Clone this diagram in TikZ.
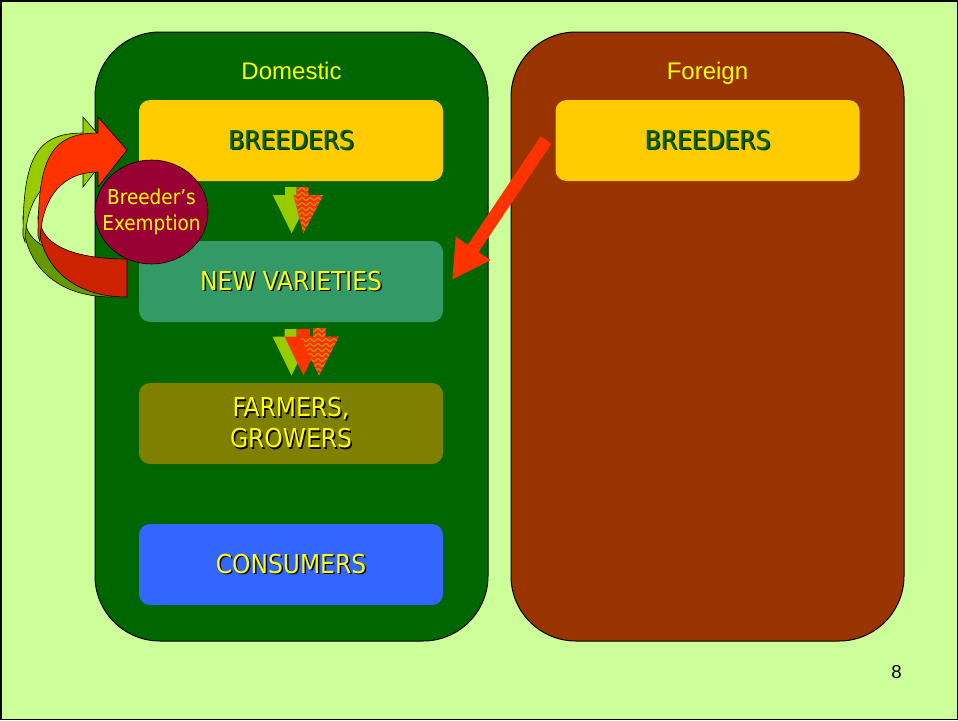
\documentclass[tikz,border=0pt]{standalone}
\usepackage{fontspec}
\setmainfont{Liberation Sans}
\newfontfamily\tahoma{DejaVu Sans Condensed}
\usetikzlibrary{arrows.meta,shapes.geometric}

\definecolor{pagebg}{HTML}{CCFF99}
\definecolor{domgreen}{HTML}{006600}
\definecolor{forbrown}{HTML}{993300}
\definecolor{breedgold}{HTML}{FFCC00}
\definecolor{varteal}{HTML}{339966}
\definecolor{farmolive}{HTML}{808000}
\definecolor{consblue}{HTML}{3366FF}
\definecolor{txtyellow}{HTML}{FFFF00}
\definecolor{arrowred}{HTML}{FF3300}
\definecolor{arrowreddark}{HTML}{CC2200}
\definecolor{arrowlime}{HTML}{99CC00}
\definecolor{arrowlimedark}{HTML}{669900}
\definecolor{exemptred}{HTML}{990033}
\definecolor{wavegold}{RGB}{190,150,20}
\definecolor{breedshadow}{RGB}{0,40,0}

% text with a small drop shadow: #1 text colour, #2 shadow colour, #3 text
\newcommand\shadowed[3]{\leavevmode\rlap{\kern1.5pt\raisebox{-1.5pt}{\textcolor{#2}{#3}}}\textcolor{#1}{#3}}

% solid block arrow pointing down
% #1 colour, #2/#3 stem left/right, #4 stem top, #5 head top,
% #6/#7 head left/right, #8/#9 tip
\newcommand\blockarrow[9]{\fill[#1] (#2,#4) -- (#3,#4) -- (#3,#5) -- (#7,#5) -- (#8,#9) -- (#6,#5) -- (#2,#5) -- cycle;}

% red block arrow with a wavy fill
\newcommand\wavyarrow[8]{%
  \begin{scope}
    \clip (#1,#3) -- (#2,#3) -- (#2,#4) -- (#6,#4) -- (#7,#8) -- (#5,#4) -- (#1,#4) -- cycle;
    \fill[arrowred] (#5,#3) rectangle (#6,#8);
    \foreach \k in {0,...,9}
      \draw[wavegold, line width=1.1pt] plot[domain=#5:#6, samples=40, smooth] (\x,{#3+2+\k*5+1.4*sin(45*\x)});
  \end{scope}}

% curved "re-use" arrow: #1 front band colour, #2 back band colour
\newcommand\loopingarrow[2]{%
  \path[draw=black, line width=0.6pt, fill=#2]
    (127,297) .. controls (72,297) and (38,265) .. (38,217)
    -- (40,222) .. controls (44,248) and (80,259) .. (127,259) -- cycle;
  \path[draw=black, line width=0.6pt, fill=#1]
    (98,133) -- (98,117) -- (127,150) -- (98,187) -- (98,172)
    .. controls (62,172) and (41,198) .. (40,242)
    -- (38,236) .. controls (38,160) and (50,133) .. (98,133) -- cycle;}

\tikzset{
  panel/.style={draw=black, line width=1pt, rounded corners=65pt,
    minimum width=393pt, minimum height=609pt, inner sep=0pt},
  paneltitle/.style={font=\fontsize{24}{28}\selectfont, text=txtyellow, anchor=base},
  stagebox/.style={rounded corners=11pt, minimum width=304pt, minimum height=81pt,
    inner sep=0pt, align=center, font=\tahoma\fontsize{26}{31}\selectfont},
}

\begin{document}
\begin{tikzpicture}[x=1pt,y=-1pt]
  \useasboundingbox (0,0) rectangle (958,720);
  \fill[pagebg] (0,0) rectangle (958,720);
  \draw[black, line width=1.5pt] (0.75,0.75) rectangle (957.25,719.25);

  % the two sides
  \node[panel, fill=domgreen] (domestic) at (291.5,336.5) {};
  \node[panel, fill=forbrown] (foreign) at (707.5,336.5) {};
  \node[paneltitle] (domtitle) at (291.5,79.5) {Domestic};
  \node[paneltitle] (fortitle) at (707.5,79.5) {Foreign};

  % stages on the domestic side
  \node[stagebox, fill=breedgold] (dbreed) at (291,140.5)
    {\shadowed{domgreen}{breedshadow}{BREEDERS}};
  \node[stagebox, fill=varteal] (newvar) at (291,281.5)
    {\shadowed{txtyellow}{black}{NEW VARIETIES}};
  \node[stagebox, fill=farmolive] (farmers) at (291,423.5)
    {\shadowed{txtyellow}{black}{FARMERS,}\\\shadowed{txtyellow}{black}{GROWERS}};
  \node[stagebox, fill=consblue] (consumers) at (291,564.5)
    {\shadowed{txtyellow}{black}{CONSUMERS}};

  % foreign breeders
  \node[stagebox, fill=breedgold] (fbreed) at (707.5,140.5)
    {\shadowed{domgreen}{breedshadow}{BREEDERS}};

  % down arrows between breeders and new varieties
  \blockarrow{arrowlime}{285}{296.7}{187}{195}{272.7}{310.7}{291.7}{233.3}
  \wavyarrow{296.7}{308.3}{187}{195}{293.3}{323.3}{303.3}{233.3}

  % down arrows between new varieties and farmers
  \blockarrow{arrowlime}{284.5}{296.7}{329}{336.5}{272.5}{310.5}{291.5}{375.5}
  \blockarrow{arrowred}{296.7}{310}{329}{336.5}{284.5}{322.5}{303.5}{375.5}
  \wavyarrow{313}{325.5}{328}{336.5}{300}{339}{319}{375.5}

  % foreign breeders feeding new varieties
  \coordinate (fb-out) at (546,140);
  \coordinate (nv-in) at (452,280);
  \draw[arrowred, line width=13pt, -{Triangle[length=38pt,width=39pt]}] (fb-out) -- (nv-in);

  % breeder's exemption loop
  \begin{scope}[xshift=-15pt]
    \loopingarrow{arrowlime}{arrowlimedark}
  \end{scope}
  \loopingarrow{arrowred}{arrowreddark}

  \node[ellipse, draw=black, line width=0.6pt, fill=exemptred,
        minimum width=113pt, minimum height=104pt, inner sep=0pt]
        (exempt) at (151.5,212) {};
  \node[align=center, text=txtyellow, inner sep=0pt,
        font=\tahoma\fontsize{20.5}{26}\selectfont]
        (exempt-text) at (exempt.center) {Breeder’s\\Exemption};

  \node[font=\fontsize{18.7}{22}\selectfont] (pagenum) at (896.5,672.5) {8};
\end{tikzpicture}
\end{document}
